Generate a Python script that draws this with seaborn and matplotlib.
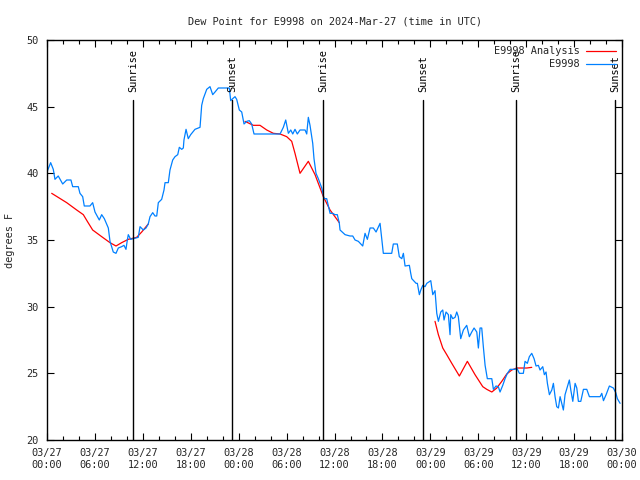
import matplotlib
matplotlib.use("Agg")
import matplotlib.pyplot as plt
from matplotlib.lines import Line2D
import seaborn as sns
import pandas as pd
import numpy as np

# Hours since 2024-03-27 00:00 UTC
obs_hours = [0.0, 0.46, 0.79, 1.0, 1.41, 1.97, 2.47, 3.0, 3.22, 3.92, 4.13, 4.47, 4.67, 5.38, 5.72, 6.01,
             6.55, 6.85, 7.18, 7.68, 7.89, 8.30, 8.64, 8.93, 9.35, 9.64, 9.89, 10.06, 10.18, 10.48, 10.81,
             11.43, 11.65, 12.06, 12.40, 12.68, 12.90, 13.24, 13.52, 13.74, 13.94, 14.36, 14.65, 14.78,
             15.19, 15.40, 15.74, 16.03, 16.37, 16.57, 16.87, 17.07, 17.15, 17.41, 17.69, 17.99, 18.53,
             19.16, 19.37, 19.57, 20.0, 20.41, 20.75, 21.04, 21.45, 22.50, 22.83, 23.0, 23.25, 23.54,
             23.75, 24.08, 24.38, 24.67, 25.01, 25.33, 25.63, 25.92, 29.18, 29.59, 29.89, 30.22, 30.52,
             30.77, 31.05, 31.34, 31.68, 32.31, 32.52, 32.72, 32.93, 33.27, 33.43, 33.68, 33.97, 34.40,
             34.69, 35.02, 35.44, 35.77, 36.06, 36.35, 36.60, 36.69, 37.32, 37.94, 38.28, 38.57, 38.98,
             39.53, 39.82, 40.11, 40.45, 40.86, 41.20, 41.70, 42.11, 43.16, 43.36, 43.86, 44.11, 44.42,
             44.62, 44.83, 45.37, 45.54, 45.67, 46.21, 46.37, 46.62, 46.80, 47.05, 47.33, 47.55, 48.05,
             48.30, 48.58, 48.80, 49.0, 49.30, 49.55, 49.71, 49.96, 50.25, 50.46, 50.55, 50.80, 51.09,
             51.30, 51.50, 51.80, 52.13, 52.55, 52.88, 53.18, 53.47, 53.81, 54.01, 54.22, 54.43, 54.63,
             54.85, 55.13, 55.69, 55.89, 56.22, 56.51, 56.72, 57.06, 57.35, 57.64, 57.98, 58.60, 58.82,
             59.14, 59.64, 59.85, 60.14, 60.39, 60.69, 60.98, 61.23, 61.52, 61.73, 62.07, 62.27, 62.48,
             62.65, 62.90, 63.20, 63.40, 63.61, 63.82, 64.03, 64.24, 64.45, 64.65, 64.86, 65.15, 65.40,
             65.58, 65.83, 66.12, 66.33, 66.53, 66.83, 67.16, 67.58, 67.91, 69.25, 69.46, 69.67, 70.0,
             70.41, 70.91, 71.21, 71.41, 71.75]
obs_dewpt = [40.1, 40.8, 40.3, 39.55, 39.8, 39.2, 39.5, 39.5, 39.0, 39.0, 38.5, 38.25, 37.55, 37.55, 37.8,
             37.1, 36.5, 36.9, 36.6, 35.9, 34.9, 34.1, 34.0, 34.4, 34.5, 34.6, 34.3, 35.0, 35.4, 35.05,
             35.1, 35.2, 36.0, 35.75, 35.9, 36.2, 36.75, 37.05, 36.8, 36.8, 37.8, 38.05, 38.75, 39.3,
             39.3, 40.25, 41.0, 41.25, 41.4, 41.95, 41.8, 41.9, 42.5, 43.3, 42.6, 42.9, 43.3,
             43.45, 45.1, 45.6, 46.3, 46.5, 45.9, 46.1, 46.4, 46.4, 46.4, 45.45, 45.6, 45.75,
             45.55, 44.75, 44.6, 43.7, 43.9, 43.95, 43.7, 42.95, 42.95, 43.45, 44.0, 43.0, 43.25,
             42.95, 43.3, 42.95, 43.25, 43.25, 42.95, 44.2, 43.6, 42.25, 41.1, 40.0, 39.6, 38.9,
             38.1, 38.1, 37.0, 37.0, 36.9, 36.9, 36.25, 35.75, 35.4, 35.3, 35.3, 35.0, 34.9,
             34.55, 35.5, 35.05, 35.9, 35.9, 35.6, 36.25, 34.0, 34.0, 34.7, 34.7, 33.75, 33.6,
             34.0, 33.05, 33.1, 32.5, 32.1, 31.75, 31.75, 30.9, 31.25, 31.6, 31.5, 31.75, 31.95,
             30.9, 31.2, 29.5, 28.9, 29.6, 29.75, 29.0, 29.6, 29.4, 27.9, 29.4, 29.1, 29.2,
             29.6, 29.25, 27.6, 28.25, 28.6, 27.75, 28.1, 28.4, 28.1, 26.9, 28.4, 28.4, 27.0,
             25.6, 24.6, 24.6, 23.8, 24.05, 24.0, 23.6, 24.1, 24.6, 25.0, 25.3, 25.3, 25.4,
             25.0, 25.0, 25.9, 25.75, 26.25, 26.5, 26.1, 25.55, 25.6, 25.25, 25.5, 24.9, 25.1,
             24.25, 23.4, 23.75, 24.25, 23.25, 22.5, 22.4, 23.25, 22.75, 22.25, 23.4, 24.0, 24.5,
             23.75, 22.9, 24.25, 23.9, 22.9, 22.9, 23.8, 23.8, 23.25, 23.25, 23.5, 22.95, 23.4,
             24.05, 23.9, 23.55, 23.1, 22.75]

ana_hours = [0.59, 2.47, 3.72, 4.55, 5.05, 5.72, 6.85, 7.89, 8.64, 9.35, 10.18, 11.23, 11.86, 12.68,
             24.79, 25.83, 26.67, 27.51, 28.34, 29.18, 30.01, 30.64, 31.05, 31.68, 32.72, 33.56, 34.60, 35.44, 36.60,
             48.58, 49.0, 49.55, 50.05, 50.68, 51.63, 52.63, 53.59, 54.56, 55.06, 55.69, 56.31, 56.94, 57.56, 58.19,
             58.82, 60.07, 60.69]
ana_dewpt = [38.5, 37.8, 37.25, 36.9, 36.4, 35.75, 35.25, 34.8, 34.55, 34.8, 35.05, 35.2, 35.6, 36.2,
             43.9, 43.6, 43.6, 43.25, 43.0, 42.95, 42.75, 42.4, 41.5, 40.0, 40.9, 39.9, 38.25, 37.25, 36.3,
             28.9, 27.9, 26.9, 26.4, 25.75, 24.8, 25.9, 24.9, 24.0, 23.8, 23.6, 23.9, 24.4, 24.95, 25.25,
             25.4, 25.4, 25.45]
ana_segment = [0] * 14 + [1] * 15 + [2] * 18

sun_hours = [10.77, 23.17, 34.56, 47.08, 58.73, 71.1]
sun_labels = ["Sunrise", "Sunset", "Sunrise", "Sunset", "Sunrise", "Sunset"]

xtick_hours = list(range(0, 73, 6))
xtick_labels = ["03/27\n00:00", "03/27\n06:00", "03/27\n12:00", "03/27\n18:00",
                "03/28\n00:00", "03/28\n06:00", "03/28\n12:00", "03/28\n18:00",
                "03/29\n00:00", "03/29\n06:00", "03/29\n12:00", "03/29\n18:00", "03/30\n00:00"]
ytick_vals = [20, 25, 30, 35, 40, 45, 50]

series_names = ["E9998 Analysis", "E9998"]
series_colors = ["#ff0000", "#0080ff"]

FS = 7.4

sns.set_theme(style="white")
plt.rcParams['font.family'] = ['DejaVu Sans Mono']

obs_df = pd.DataFrame({"hours": obs_hours, "dewpt": obs_dewpt})
ana_df = pd.DataFrame({"hours": ana_hours, "dewpt": ana_dewpt, "seg": ana_segment})

fig = plt.figure(figsize=(6.4, 4.8), dpi=100)
ax = fig.add_axes([0.0734, 0.0833, 0.8986, 0.8334])

sns.lineplot(data=ana_df, x="hours", y="dewpt", units="seg", estimator=None,
             color=series_colors[0], linewidth=0.9, ax=ax, legend=False)
sns.lineplot(data=obs_df, x="hours", y="dewpt", estimator=None,
             color=series_colors[1], linewidth=0.9, ax=ax, legend=False)

for h, lab in zip(sun_hours, sun_labels):
    ax.plot([h, h], [20, 45.5], color="black", linewidth=1.0)
    ax.text(h, 46.1, lab, rotation=90, ha="center", va="bottom", fontsize=FS, color="black")

ax.set_xlim(0, 72)
ax.set_ylim(20, 50)
ax.set_xticks(xtick_hours)
ax.set_xticklabels(xtick_labels, fontsize=FS)
ax.set_xticks(list(range(0, 73, 2)), minor=True)
ax.set_yticks(ytick_vals)
ax.set_yticklabels([str(v) for v in ytick_vals], fontsize=FS)
ax.tick_params(axis="both", which="major", direction="in", length=5, width=0.8,
               top=True, right=True, bottom=True, left=True, color="black", pad=6)
ax.tick_params(axis="x", which="minor", direction="in", length=3, width=0.8,
               top=True, bottom=True, color="black")
ax.set_xlabel("")
ax.set_ylabel("degrees F", fontsize=FS, labelpad=8)
ax.set_title("Dew Point for E9998 on 2024-Mar-27 (time in UTC)", fontsize=FS, pad=11)
for sp in ax.spines.values():
    sp.set_color("black")
    sp.set_linewidth(1.0)

handles = [Line2D([0], [0], color=c, linewidth=0.9) for c in series_colors]
ax.legend(handles, series_names, loc="upper right", frameon=False, markerfirst=False, fontsize=FS,
          handlelength=2.9, borderaxespad=0.6, labelspacing=0.3, handletextpad=0.6,
          borderpad=0.0)

fig.savefig("out.png", dpi=100)
